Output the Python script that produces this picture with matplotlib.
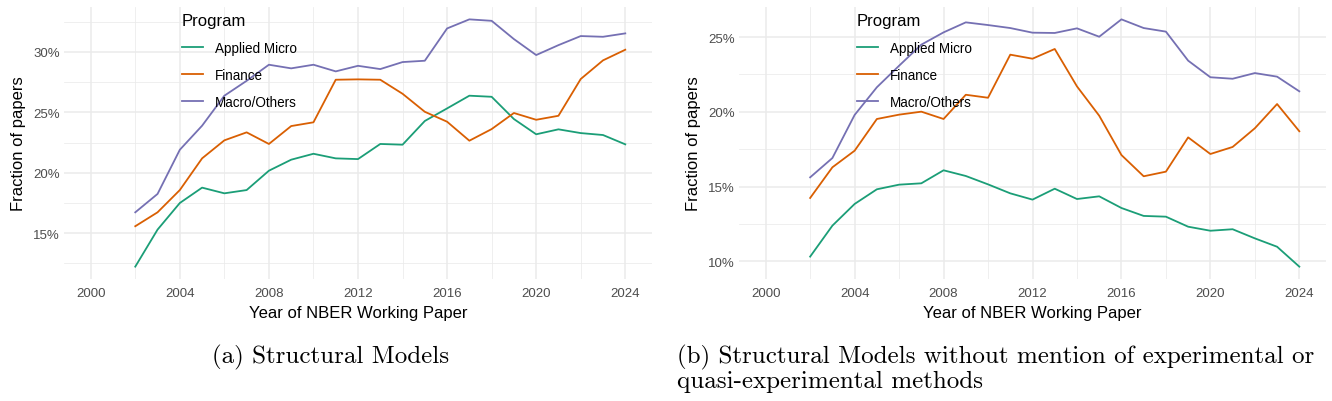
import matplotlib as mpl
import numpy as np
from matplotlib import pyplot as plt
from matplotlib import ticker

mpl.use("Agg")
plt.rcParams["font.family"] = ["Liberation Sans", "DejaVu Sans"]

# Data (percent of papers)
years = list(range(2002, 2025))
programs = ["Applied Micro", "Finance", "Macro/Others"]
colours = ["#1B9E77", "#D95F02", "#7570B3"]

all_applied = [12.24, 15.30, 17.50, 18.77, 18.30, 18.57, 20.17, 21.08, 21.57, 21.19, 21.13, 22.38,
               22.32, 24.28, 25.32, 26.37, 26.28, 24.44, 23.18, 23.59, 23.28, 23.12, 22.35]
all_finance = [15.58, 16.73, 18.57, 21.19, 22.68, 23.34, 22.38, 23.86, 24.17, 27.69, 27.72, 27.69,
               26.53, 25.04, 24.22, 22.65, 23.61, 24.94, 24.38, 24.71, 27.75, 29.29, 30.17]
all_macro = [16.73, 18.25, 21.90, 23.89, 26.37, 27.60, 28.93, 28.63, 28.93, 28.38, 28.84, 28.57,
             29.15, 29.26, 31.93, 32.68, 32.56, 31.05, 29.73, 30.55, 31.30, 31.24, 31.52]

noexp_applied = [10.32, 12.39, 13.84, 14.82, 15.13, 15.22, 16.09, 15.71, 15.15, 14.55, 14.13, 14.86,
                 14.17, 14.35, 13.57, 13.04, 12.99, 12.32, 12.05, 12.15, 11.54, 10.98, 9.65]
noexp_finance = [14.24, 16.29, 17.40, 19.52, 19.81, 20.01, 19.52, 21.14, 20.94, 23.82, 23.55, 24.20,
                 21.70, 19.74, 17.11, 15.69, 16.00, 18.29, 17.18, 17.65, 18.90, 20.52, 18.70]
noexp_macro = [15.62, 16.91, 19.79, 21.64, 23.08, 24.49, 25.31, 25.98, 25.80, 25.60, 25.29, 25.27,
               25.58, 25.02, 26.18, 25.60, 25.36, 23.42, 22.31, 22.21, 22.59, 22.35, 21.37]

captions = ["(a) Structural Models",
            "(b) Structural Models without mention of experimental or\nquasi-experimental methods"]

W, H = 1332, 402


def draw_panel(ax, series, y_major, legend_xy):
    for name, values, colour in zip(programs, series, colours):
        ax.plot(years, values, color=colour, lw=1.3, label=name)

    lo = min(min(s) for s in series)
    hi = max(max(s) for s in series)
    pad = (hi - lo) * 0.05
    ax.set_ylim(lo - pad, hi + pad)
    ax.set_xlim(2000 - 1.2, 2024 + 1.2)

    ax.xaxis.set_major_locator(ticker.MultipleLocator(4))
    ax.xaxis.set_minor_locator(ticker.MultipleLocator(2))
    ax.yaxis.set_major_locator(ticker.FixedLocator(y_major))
    ax.yaxis.set_minor_locator(ticker.MultipleLocator(2.5))
    ax.yaxis.set_major_formatter(ticker.FuncFormatter(lambda v, _: f"{v:.0f}%"))

    ax.grid(which="major", color="#EBEBEB", lw=1.1)
    ax.grid(which="minor", color="#EBEBEB", lw=0.55)
    ax.set_axisbelow(True)
    for s in ax.spines.values():
        s.set_visible(False)
    ax.tick_params(which="both", length=0, colors="#4D4D4D", labelsize=9.5)
    ax.tick_params(axis="x", pad=6)
    ax.tick_params(axis="y", pad=3)

    ax.set_xlabel("Year of NBER Working Paper", fontsize=12, labelpad=4)
    ax.set_ylabel("Fraction of papers", fontsize=12, labelpad=5)

    leg = ax.legend(title="Program", loc="upper left",
                    bbox_to_anchor=(legend_xy[0] / W, 1 - legend_xy[1] / H),
                    bbox_transform=ax.figure.transFigure,
                    frameon=False, fontsize=9.75, title_fontsize=12,
                    handlelength=1.55, handletextpad=0.85, labelspacing=0.96,
                    borderpad=0.15, borderaxespad=0, alignment="left")
    return leg


fig = plt.figure(figsize=(W / 100, H / 100), dpi=100)

ax_a = fig.add_axes([64 / W, 1 - 280 / H, 588 / W, 272 / H])
draw_panel(ax_a, [all_applied, all_finance, all_macro], [15, 20, 25, 30], (180, 12))

ax_b = fig.add_axes([739 / W, 1 - 280 / H, 587 / W, 272 / H])
draw_panel(ax_b, [noexp_applied, noexp_finance, noexp_macro], [10, 15, 20, 25], (855, 12))

fig.text(212 / W, 1 - 363 / H, captions[0], fontfamily="cmr10", fontsize=18, va="baseline")
for i, line in enumerate(captions[1].split("\n")):
    fig.text(677 / W, 1 - (363 + 25 * i) / H, line, fontfamily="cmr10", fontsize=18,
             va="baseline")

fig.savefig("out.png", dpi=100)
